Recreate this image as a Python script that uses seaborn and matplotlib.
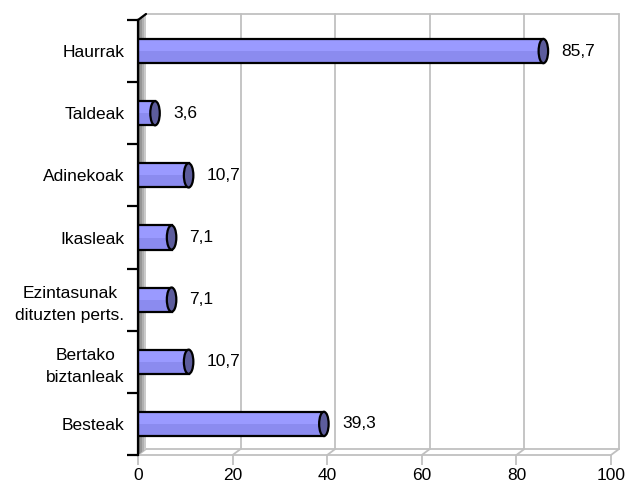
import numpy as np
import matplotlib
matplotlib.use('Agg')
import matplotlib.pyplot as plt
from matplotlib.patches import Ellipse, Polygon, Rectangle
import seaborn as sns

categories = ['Haurrak', 'Taldeak', 'Adinekoak', 'Ikasleak',
              'Ezintasunak\ndituzten perts.', 'Bertako\nbiztanleak', 'Besteak']
values = [85.7, 3.6, 10.7, 7.1, 7.1, 10.7, 39.3]
value_labels = ['85,7', '3,6', '10,7', '7,1', '7,1', '10,7', '39,3']
x_ticks = [0, 20, 40, 60, 80, 100]

sns.set_style('white')
plt.rcParams['font.family'] = ['Liberation Sans', 'DejaVu Sans']
plt.rcParams['text.color'] = 'black'
plt.rcParams['xtick.labelcolor'] = 'black'
plt.rcParams['ytick.labelcolor'] = 'black'

fig = plt.figure(figsize=(6.26, 4.84), dpi=100)
ax = fig.add_axes([138/626, 29/484, 473/626, 435/484])

sns.barplot(x=values, y=categories, orient='h', color='#9A9AFF', saturation=1,
            edgecolor='none', width=0.39, ax=ax, zorder=3)

ax.set_xlim(0, 100)
ax.set_ylim(6.5, -0.5)
ax.set_xlabel('')
ax.set_ylabel('')

# pixel -> data units, for the fake 3d depth
px_x = ax.bbox.width / 100
px_y = ax.bbox.height / 7
dx = 8 / px_x
dy = 6 / px_y
grey = '#C0C0C0'

# shading on the bars: darker lower half, then outline
for p in list(ax.patches):
    x, y, w, h = p.get_x(), p.get_y(), p.get_width(), p.get_height()
    ax.add_patch(Rectangle((x, y + h * 0.5), w, h * 0.5, fc='#8B8BEF', ec='none', zorder=3.2))
    ax.add_patch(Rectangle((x, y), w, h, fill=False, ec='black', lw=1.6, zorder=3.4))

# back wall grid + floor
for t in x_ticks[1:]:
    ax.plot([t + dx, t + dx], [6.5 - dy, -0.5 - dy], color=grey, lw=1.3,
            clip_on=False, zorder=0)
ax.plot([dx, 100 + dx], [-0.5 - dy] * 2, color=grey, lw=1.3, clip_on=False, zorder=0)
ax.plot([dx, 100 + dx], [6.5 - dy] * 2, color=grey, lw=1.3, clip_on=False, zorder=0)
for t in x_ticks:
    ax.plot([t, t + dx], [6.5, 6.5 - dy], color=grey, lw=1.3, clip_on=False, zorder=0)

# left wall, grey shaded
wall_cols = ['#7A7A7A', '#969696', '#B0B0B0', '#CACACA']
n = len(wall_cols)
for k, c in enumerate(wall_cols):
    x0, x1 = dx * k / n, dx * (k + 1) / n
    y0, y1 = dy * k / n, dy * (k + 1) / n
    ax.add_patch(Polygon([(x0, -0.5 - y0), (x1, -0.5 - y1), (x1, 6.5 - y1), (x0, 6.5 - y0)],
                         closed=True, fc=c, ec='none', clip_on=False, zorder=1))
ax.plot([0, dx], [-0.5, -0.5 - dy], color='black', lw=1.6, clip_on=False, zorder=5)

# cylinder end caps + value labels
for i, v in enumerate(values):
    ax.add_patch(Ellipse((v, i), width=9.5 / px_x, height=0.39, fc='#5C5C9C',
                         ec='black', lw=1.6, zorder=4))
    ax.text(v + 18 / px_x, i, value_labels[i], va='center', ha='left', fontsize=12.5)

ax.set_xticks(x_ticks)
ax.set_yticks(np.arange(-0.5, 7, 1), minor=True)
ax.tick_params(axis='x', direction='out', length=7, width=1.3, color=grey,
               pad=2, labelsize=12.5, bottom=True)
ax.tick_params(axis='y', which='major', length=0, pad=9.7, labelsize=12.5)
ax.tick_params(axis='y', which='minor', direction='out', length=8, width=1.6,
               color='black', left=True)
for lab in ax.get_yticklabels():
    lab.set_multialignment('center')
    lab.set_linespacing(1.6)

for s in ['top', 'right']:
    ax.spines[s].set_visible(False)
ax.spines['bottom'].set_color(grey)
ax.spines['bottom'].set_linewidth(1.3)
ax.spines['left'].set_color('black')
ax.spines['left'].set_linewidth(1.6)
ax.spines['left'].set_zorder(5)

fig.savefig('out.png', dpi=100)
